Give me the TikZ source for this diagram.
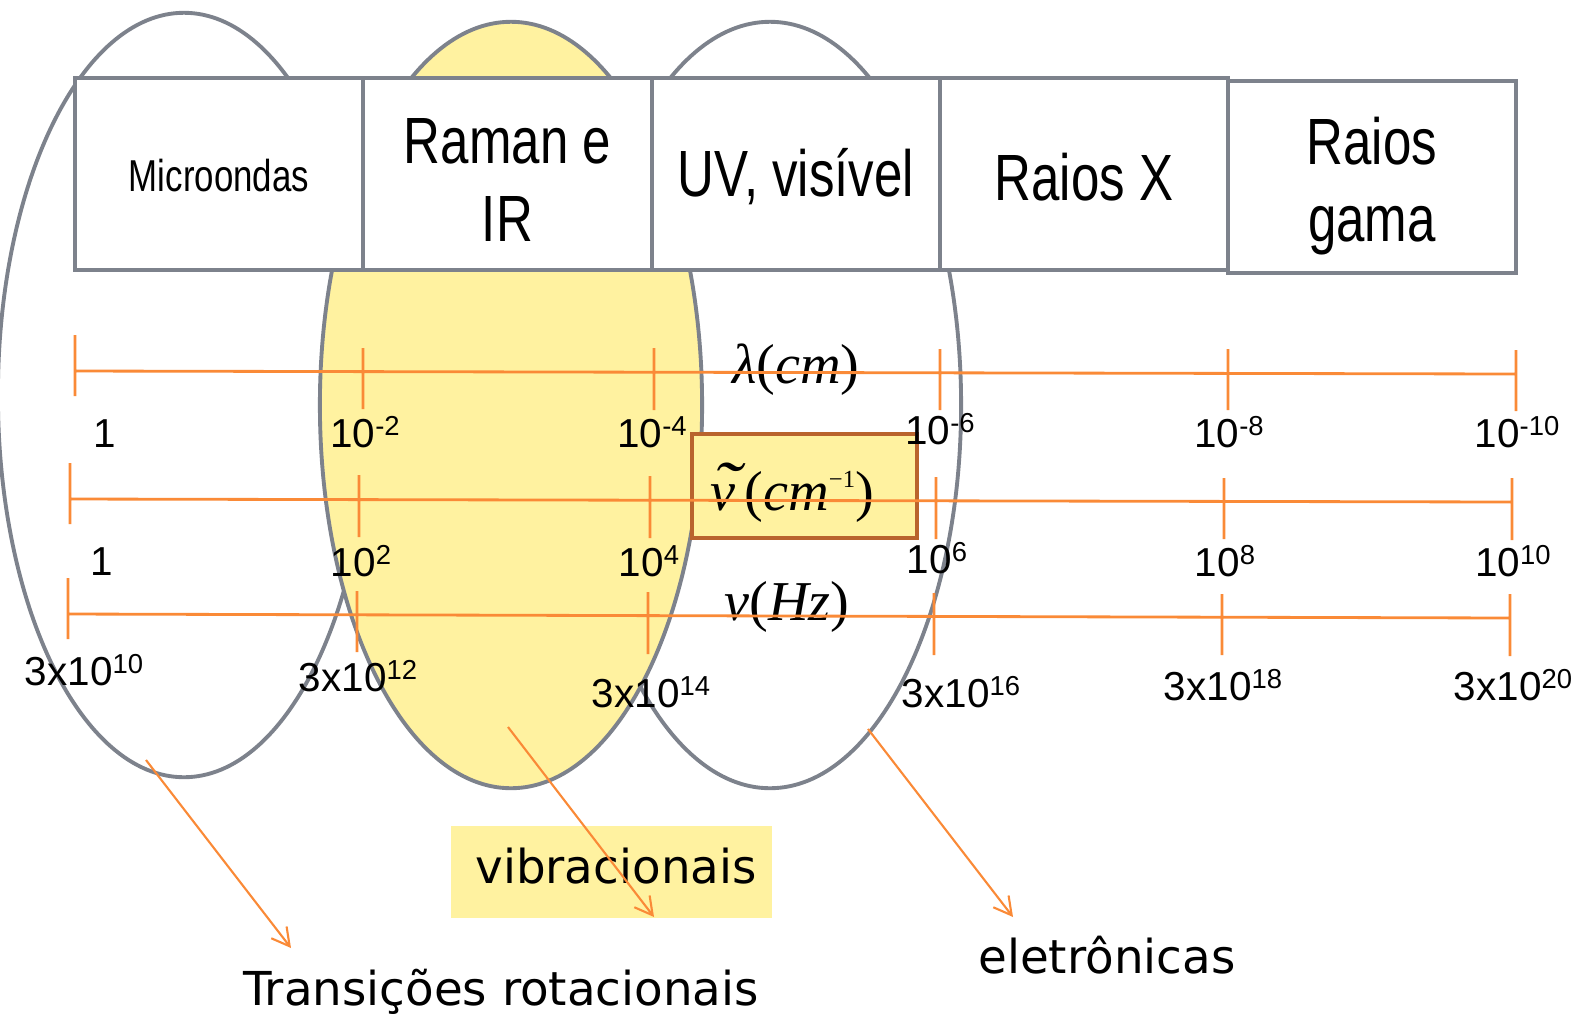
\documentclass[tikz,border=0pt]{standalone}
\usepackage{fontspec}
\setmainfont{Liberation Sans}
\newfontfamily\narrowsans{Liberation Sans}[FakeStretch=0.78]
\newfontfamily\legendfont{DejaVu Sans}
\newfontfamily\timesfont{Liberation Serif}
\usepackage{xcolor}
\usepackage{graphicx}
\usetikzlibrary{arrows.meta}
\definecolor{frameGrey}{RGB}{125,130,140}
\definecolor{scaleOrange}{RGB}{250,138,55}
\definecolor{ramanYellow}{RGB}{255,242,160}
\definecolor{waveBrown}{RGB}{185,100,45}
\newcommand{\potencia}[1]{\raisebox{3.4pt}{\fontsize{7.8}{8}\selectfont #1}}
\newcommand{\nutil}{\ooalign{ν\cr\hidewidth\kern0.12em\raisebox{0.02em}{\scalebox{1.5}[1.2]{\char"02DC}}\hidewidth\cr}}

\begin{document}
\begin{tikzpicture}[x=0.01cm,y=-0.01cm,
  band/.style={draw=frameGrey,line width=1.1pt,fill=white,minimum width=2.88cm,minimum height=1.92cm,align=center,inner sep=0pt,font=\narrowsans\fontsize{18.6}{21.9}\selectfont},
  region/.style={draw=frameGrey,line width=1.1pt},
  scale line/.style={scaleOrange,line width=0.8pt},
  num/.style={anchor=base,inner sep=0pt,font=\fontsize{11.5}{13}\selectfont},
  quantity/.style={anchor=base,inner sep=0pt,font=\timesfont\fontsize{16}{18}\selectfont},
  legend/.style={anchor=base,inner sep=0pt,font=\legendfont\fontsize{13.3}{16}\selectfont},
  pointer/.style={scaleOrange,line width=0.6pt,-{Straight Barb[length=5pt,width=5.5pt]}}]
\useasboundingbox (0,0) rectangle (1578,1014);
\draw[region,fill=white] (184,395) ellipse [x radius=1.86cm,y radius=3.82cm];
\draw[region,fill=white] (770,405) ellipse [x radius=1.91cm,y radius=3.83cm];
\draw[region,fill=ramanYellow] (511,405) ellipse [x radius=1.91cm,y radius=3.83cm];
\node[band] (micro) at (219,174) {\fontsize{12.7}{15}\selectfont\rule{0pt}{10pt}Microondas};
\node[band] (raman) at (507.5,174) {\rule{0pt}{16.2pt}Raman e\\IR};
\node[band] (uvvis) at (796,174) {\rule{0pt}{15.4pt}UV, visível};
\node[band] (raiosx) at (1084,174) {\rule{0pt}{15pt}Raios X};
\node[band] (gama) at (1372,177) {\rule{0pt}{18.4pt}Raios\\gama};
\node[draw=waveBrown,line width=1.1pt,fill=ramanYellow,minimum width=2.25cm,minimum height=1.04cm] (nubox) at (804.5,486) {};
\node[fill=ramanYellow,minimum width=3.21cm,minimum height=0.92cm] (vibbox) at (611.5,872) {};
\node[num] (l0) at (105,447) {1};
\node[num] (l2) at (365,447) {10\potencia{-2}};
\node[num] (l4) at (652,447) {10\potencia{-4}};
\node[num] (l6) at (940,444) {10\potencia{-6}};
\node[num] (l8) at (1229,447) {10\potencia{-8}};
\node[num] (l10) at (1517,447) {10\potencia{-10}};
\node[num] (k0) at (102,575) {1};
\node[num] (k2) at (361,576) {10\potencia{2}};
\node[num] (k4) at (649,576) {10\potencia{4}};
\node[num] (k6) at (937,573) {10\potencia{6}};
\node[num] (k8) at (1225,576) {10\potencia{8}};
\node[num] (k10) at (1513,576) {10\potencia{10}};
\node[num] (f10) at (84,685) {3x10\potencia{10}};
\node[num] (f12) at (358,691) {3x10\potencia{12}};
\node[num] (f14) at (651,707) {3x10\potencia{14}};
\node[num] (f16) at (961,707) {3x10\potencia{16}};
\node[num] (f18) at (1223,700) {3x10\potencia{18}};
\node[num] (f20) at (1513,700) {3x10\potencia{20}};
\node[quantity] (lambda) at (796,383) {\itshape λ\upshape(\itshape cm\upshape)};
\node[quantity] (nutilde) at (792,510) {\itshape\nutil\upshape\,(\itshape cm\upshape\raisebox{6.5pt}{\fontsize{7}{8}\selectfont −1})};
\node[quantity] (nu) at (787,620) {\itshape ν\upshape(\itshape Hz\upshape)};
\node[legend] (vib) at (616,883) {vibracionais};
\node[legend] (rot) at (501,1005) {Transições rotacionais};
\node[legend] (ele) at (1107,973) {eletrônicas};
\draw[scale line] (75,371) -- (1516,374)
  (75,335) -- (75,396) (363,348) -- (363,409) (654,348) -- (654,410) (940,349) -- (940,410) (1228,349) -- (1228,410) (1516,350) -- (1516,411);
\draw[scale line] (70,499) -- (1512,502)
  (70,463) -- (70,524) (359,475) -- (359,537) (650,476) -- (650,538) (936,477) -- (936,539) (1224,478) -- (1224,539) (1512,478) -- (1512,540);
\draw[scale line] (68,614) -- (1510,618)
  (68,578) -- (68,639) (357,591) -- (357,652) (648,592) -- (648,654) (934,593) -- (934,655) (1222,594) -- (1222,655) (1510,594) -- (1510,656);
\coordinate (rotTail) at (146,760);
\coordinate (rotHead) at (291,948);
\coordinate (vibTail) at (508,727);
\coordinate (vibHead) at (654,917);
\coordinate (eleTail) at (868,729);
\coordinate (eleHead) at (1013,917);
\draw[pointer] (rotTail) -- (rotHead);
\draw[pointer] (vibTail) -- (vibHead);
\draw[pointer] (eleTail) -- (eleHead);
\end{tikzpicture}
\end{document}
